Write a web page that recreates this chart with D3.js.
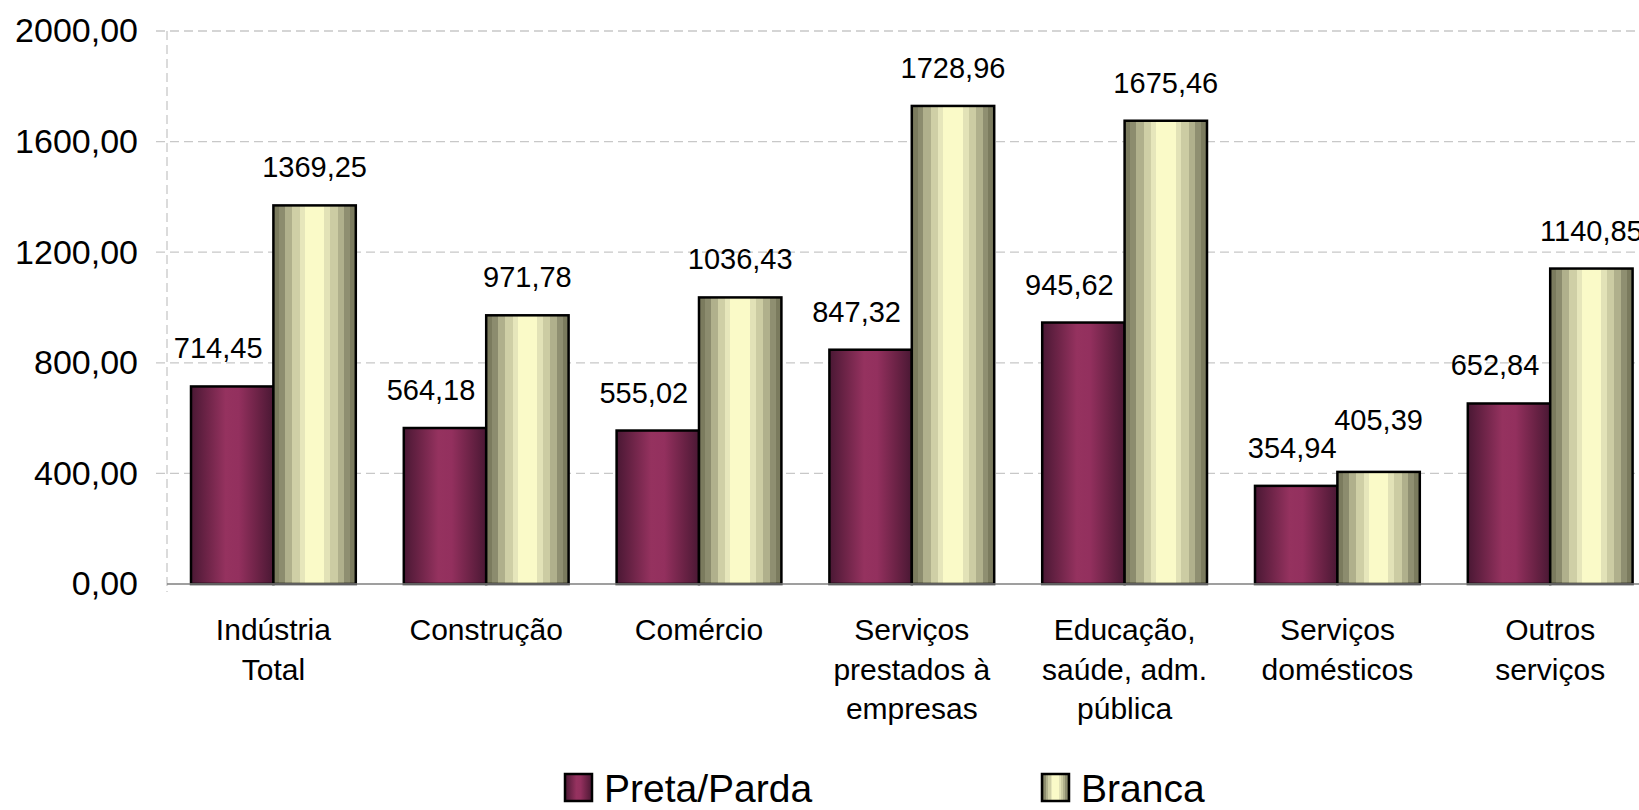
<!DOCTYPE html>
<html>
<head>
<meta charset="utf-8">
<script src="https://cdn.jsdelivr.net/npm/d3@7"></script>
<style>
  body { margin: 0; background: #fff; }
  svg { display: block; font-family: "Liberation Sans", Arial, sans-serif; }
</style>
</head>
<body>
<div id="chart"></div>
<script>
// categories, each split into its label lines
var categories = ["Indústria Total", "Construção", "Comércio", "Serviços prestados à empresas",
                  "Educação, saúde, adm. pública", "Serviços domésticos", "Outros serviços"];
var categoryLines = [["Indústria", "Total"], ["Construção"], ["Comércio"],
                     ["Serviços", "prestados à", "empresas"], ["Educação,", "saúde, adm.", "pública"],
                     ["Serviços", "domésticos"], ["Outros", "serviços"]];
var series = ["Preta/Parda", "Branca"];
var pretaParda = [714.45, 564.18, 555.02, 847.32, 945.62, 354.94, 652.84];
var branca = [1369.25, 971.78, 1036.43, 1728.96, 1675.46, 405.39, 1140.85];
var yTicks = [0, 400, 800, 1200, 1600, 2000];

var width = 1639, height = 810;
var margin = {left: 167, top: 31, bottom: 226};

var svg = d3.select("#chart").append("svg")
    .attr("width", width)
    .attr("height", height);

var defs = svg.append("defs");

// Preta/Parda: smooth dark-light-dark cylinder shading
var gPreta = defs.append("linearGradient").attr("id", "gradPreta")
    .attr("x1", "0%").attr("x2", "100%").attr("y1", "0%").attr("y2", "0%");
[[0, "#4a1834"], [0.2, "#6e2448"], [0.42, "#95325f"], [0.58, "#93305e"], [0.82, "#6a2245"], [1, "#4a1834"]]
  .forEach(function(s) { gPreta.append("stop").attr("offset", s[0]).attr("stop-color", s[1]); });

// Branca: banded steps
var gBranca = defs.append("linearGradient").attr("id", "gradBranca")
    .attr("x1", "0%").attr("x2", "100%").attr("y1", "0%").attr("y2", "0%");
var bands = [[0, 0.07, "#7b7b5e"], [0.07, 0.14, "#8c8c6e"], [0.14, 0.23, "#b0b08c"], [0.23, 0.32, "#cfcfa6"],
             [0.32, 0.38, "#e6e6bb"], [0.38, 0.62, "#fafac8"], [0.62, 0.69, "#e2e2b7"], [0.69, 0.78, "#cccca3"],
             [0.78, 0.86, "#b0b08c"], [0.86, 0.93, "#8f8f71"], [0.93, 1, "#7b7b5e"]];
bands.forEach(function(b) {
  gBranca.append("stop").attr("offset", b[0]).attr("stop-color", b[2]);
  gBranca.append("stop").attr("offset", b[1]).attr("stop-color", b[2]);
});

var fills = {"Preta/Parda": "url(#gradPreta)", "Branca": "url(#gradBranca)"};

var x0 = d3.scaleBand()
    .domain(categories)
    .range([margin.left, margin.left + 7 * 212.8])
    .padding(0);

var x1 = d3.scaleBand()
    .domain(series)
    .range([24, x0.bandwidth() - 24]);

var y = d3.scaleLinear()
    .domain([0, 2000])
    .range([height - margin.bottom, margin.top]);

// gridlines
svg.append("g")
  .selectAll("line")
  .data(yTicks.slice(1))
  .enter().append("line")
    .attr("x1", margin.left - 11).attr("x2", width)
    .attr("y1", function(d) { return y(d); })
    .attr("y2", function(d) { return y(d); })
    .attr("stroke", "#c8c8c8")
    .attr("stroke-width", 1.3)
    .attr("stroke-dasharray", "9,5");

// y axis (dashed vertical line)
svg.append("line")
    .attr("x1", margin.left).attr("x2", margin.left)
    .attr("y1", y(2000)).attr("y2", y(0) + 8)
    .attr("stroke", "#c8c8c8")
    .attr("stroke-width", 1.3)
    .attr("stroke-dasharray", "9,5");

var yAxis = d3.axisLeft(y)
    .tickValues(yTicks)
    .tickSize(0)
    .tickPadding(29)
    .tickFormat(function(d) { return d3.format(".2f")(d).replace(".", ","); });

var gy = svg.append("g")
    .attr("transform", "translate(" + margin.left + ",0)")
    .call(yAxis);
gy.select(".domain").remove();
gy.selectAll("text")
    .attr("font-size", "34px")
    .attr("fill", "#000")
    .attr("font-family", "Liberation Sans, Arial, sans-serif");

// bars
var rows = categories.map(function(c, i) {
  return {category: c, values: [
    {key: "Preta/Parda", value: pretaParda[i], idx: i},
    {key: "Branca", value: branca[i], idx: i}
  ]};
});

var group = svg.selectAll("g.grp")
    .data(rows)
  .enter().append("g")
    .attr("class", "grp")
    .attr("transform", function(d) { return "translate(" + x0(d.category) + ",0)"; });

group.selectAll("rect")
    .data(function(d) { return d.values; })
  .enter().append("rect")
    .attr("x", function(d) { return x1(d.key); })
    .attr("width", x1.bandwidth())
    .attr("y", function(d) { return y(d.value); })
    .attr("height", function(d) { return y(0) - y(d.value); })
    .attr("fill", function(d) { return fills[d.key]; })
    .attr("stroke", "#000")
    .attr("stroke-width", 2.5);

// x axis line
svg.append("line")
    .attr("x1", margin.left).attr("x2", width)
    .attr("y1", y(0)).attr("y2", y(0))
    .attr("stroke", "#7f7f7f")
    .attr("stroke-width", 1.5);

// value labels (Excel nudged a few of them)
var nudgeX = {"Preta/Parda": -14, "Branca": 0};
var extraNudge = {"5-Preta/Parda": [10, 0], "5-Branca": [0, -14]};

group.selectAll("text.val")
    .data(function(d) { return d.values; })
  .enter().append("text")
    .attr("class", "val")
    .attr("text-anchor", "middle")
    .attr("font-size", "29px")
    .attr("fill", "#000")
    .attr("x", function(d) {
      var e = extraNudge[d.idx + "-" + d.key] || [0, 0];
      return x1(d.key) + x1.bandwidth() / 2 + nudgeX[d.key] + e[0];
    })
    .attr("y", function(d) {
      var e = extraNudge[d.idx + "-" + d.key] || [0, 0];
      return y(d.value) - 28 + e[1];
    })
    .text(function(d) { return d3.format(".2f")(d.value).replace(".", ","); });

// category labels
group.append("text")
    .attr("text-anchor", "middle")
    .attr("font-size", "30px")
    .attr("fill", "#000")
    .attr("y", y(0) + 56)
  .selectAll("tspan")
    .data(function(d, i) { return categoryLines[i]; })
  .enter().append("tspan")
    .attr("x", x0.bandwidth() / 2)
    .attr("dy", function(d, i) { return i === 0 ? 0 : 39.5; })
    .text(function(d) { return d; });

// legend
var legendX = [565, 1042];
var legend = svg.selectAll("g.legend")
    .data(series)
  .enter().append("g")
    .attr("class", "legend")
    .attr("transform", function(d, i) { return "translate(" + legendX[i] + ",774)"; });

legend.append("rect")
    .attr("width", 27).attr("height", 27)
    .attr("fill", function(d) { return fills[d]; })
    .attr("stroke", "#000")
    .attr("stroke-width", 2.5);

legend.append("text")
    .attr("x", 39)
    .attr("y", 28)
    .attr("font-size", "39px")
    .attr("fill", "#000")
    .text(function(d) { return d; });
</script>
</body>
</html>
